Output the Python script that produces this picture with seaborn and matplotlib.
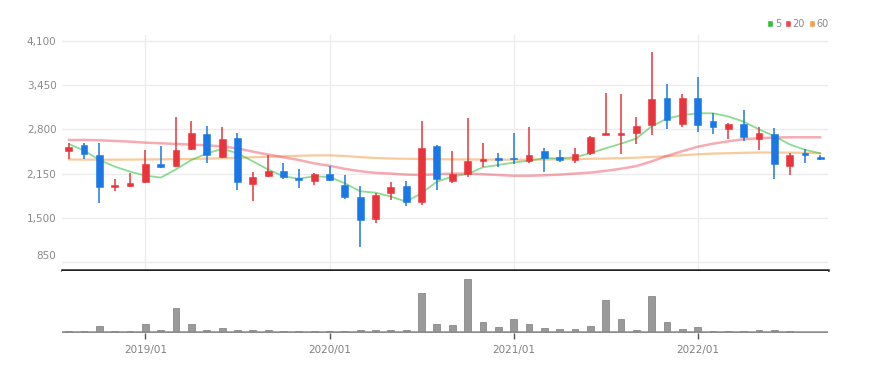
import numpy as np
import pandas as pd
import matplotlib
matplotlib.use("Agg")
import matplotlib.pyplot as plt
import matplotlib.transforms as mtransforms
from matplotlib.patches import Patch
import seaborn as sns

# ---------------- data ----------------
months = pd.period_range("2018-08", "2022-09", freq="M").strftime("%Y/%m").tolist()

open_ = [2478, 2571, 2429, 1949, 1968, 2022, 2292, 2263, 2517, 2728,
         2390, 2679, 1998, 2120, 2184, 2086, 2037, 2150, 1988, 1802,
         1488, 1861, 1968, 1733, 2556, 2047, 2140, 2331, 2375, 2385,
         2336, 2478, 2395, 2351, 2449, 2713, 2713, 2743, 2860, 3262,
         2880, 3262, 2929, 2806, 2880, 2659, 2733, 2263, 2449, 2399]
close = [2547, 2439, 1954, 1978, 2017, 2292, 2248, 2498, 2753, 2429,
         2664, 2022, 2101, 2189, 2096, 2062, 2150, 2062, 1802, 1469,
         1841, 1959, 1733, 2527, 2076, 2140, 2341, 2360, 2350, 2360,
         2424, 2380, 2346, 2439, 2694, 2748, 2748, 2851, 3252, 2939,
         3262, 2870, 2836, 2875, 2684, 2743, 2287, 2419, 2419, 2365]
high = [2596, 2596, 2605, 2076, 2164, 2498, 2556, 2988, 2929, 2850,
        2831, 2753, 2174, 2419, 2302, 2223, 2164, 2263, 2125, 1968,
        1861, 2027, 2047, 2929, 2576, 2478, 2968, 2605, 2460, 2753,
        2831, 2527, 2498, 2527, 2704, 3331, 3321, 2978, 3938, 3468,
        3321, 3566, 3046, 2890, 3086, 2840, 2821, 2449, 2517, 2419]
low = [2360, 2360, 1724, 1900, 1949, 2008, 2228, 2243, 2498, 2311,
       2380, 1910, 1743, 2105, 2076, 1939, 1978, 2037, 1783, 1067,
       1420, 1762, 1675, 1684, 1910, 2017, 2105, 2243, 2243, 2292,
       2311, 2174, 2321, 2302, 2429, 2713, 2439, 2586, 2713, 2802,
       2831, 2762, 2733, 2664, 2635, 2498, 2076, 2135, 2311, 2350]

ma5 = [2586, 2488, 2351, 2253, 2179, 2120, 2091, 2214, 2351, 2445,
       2515, 2449, 2331, 2210, 2110, 2076, 2110, 2100, 2008, 1890,
       1870, 1812, 1738, 1861, 2032, 2106, 2145, 2243, 2277, 2312,
       2341, 2375, 2375, 2390, 2450, 2522, 2590, 2665, 2845, 2960,
       3010, 3037, 3037, 2990, 2914, 2800, 2700, 2580, 2500, 2449]
ma20 = [2645, 2645, 2640, 2630, 2620, 2605, 2596, 2586, 2576, 2566,
        2550, 2522, 2473, 2430, 2390, 2350, 2300, 2265, 2220, 2185,
        2160, 2150, 2135, 2130, 2140, 2150, 2150, 2140, 2130, 2118,
        2118, 2125, 2135, 2150, 2165, 2190, 2222, 2260, 2330, 2410,
        2480, 2545, 2590, 2625, 2655, 2670, 2680, 2684, 2684, 2684]
ma60 = [2358, 2356, 2355, 2355, 2356, 2358, 2360, 2362, 2365, 2370,
        2375, 2382, 2390, 2398, 2405, 2412, 2418, 2418, 2410, 2392,
        2380, 2372, 2368, 2365, 2362, 2360, 2358, 2357, 2356, 2355,
        2355, 2357, 2360, 2364, 2368, 2372, 2377, 2384, 2394, 2406,
        2420, 2434, 2444, 2450, 2456, 2460, 2460, 2458, 2455, 2449]
volume = [3, 3, 18, 3, 3, 26, 7, 76, 26, 7,
          12, 7, 7, 7, 3, 3, 3, 3, 3, 8,
          6, 6, 8, 122, 26, 21, 165, 33, 16, 41,
          26, 12, 11, 11, 18, 99, 41, 8, 110, 32,
          11, 16, 5, 5, 5, 6, 8, 3, 2, 2]

year_ticks = ["2019/01", "2020/01", "2021/01", "2022/01"]
price_ticks = [850, 1500, 2150, 2800, 3450, 4100]

# ---------------- style ----------------
RED = "#e8343a"
BLUE = "#1a78e6"
C5, C20, C60 = "#2fbf3a", "#ee4455", "#f5a04a"

sns.set_theme(style="white")
plt.rcParams["font.family"] = ["Liberation Sans Narrow", "DejaVu Sans"]

df = pd.DataFrame({"month": months, "idx": np.arange(len(months)),
                   "open": open_, "close": close, "high": high, "low": low,
                   "ma5": ma5, "ma20": ma20, "ma60": ma60, "volume": volume})
df["up"] = df["close"] >= df["open"]
df["body_lo"] = df[["open", "close"]].min(axis=1)
df["body_h"] = (df["close"] - df["open"]).abs().clip(lower=25)
cols = np.where(df["up"], RED, BLUE)

fig = plt.figure(figsize=(8.7, 3.74), dpi=100)
L, Rr = 62 / 870, 828 / 870
ax = fig.add_axes([L, 1 - 269.5 / 374, Rr - L, (269.5 - 35) / 374])
axv = fig.add_axes([L, 1 - 333 / 374, Rr - L, (333 - 271) / 374])

xlim = (-0.44, 49.5)
tick_pos = [months.index(t) for t in year_ticks]

# price grid
ax.set_ylim(740, 4188)
ax.set_xlim(*xlim)
ax.set_yticks(price_ticks)
ax.set_yticklabels([f"{v:,}" for v in price_ticks])
ax.set_xticks(tick_pos)
ax.set_xticklabels([])
ax.grid(True, color="#ececec", lw=1.0)
ax.set_axisbelow(True)
for s in ["top", "left", "right"]:
    ax.spines[s].set_visible(False)
ax.spines["bottom"].set_color("#222222")
ax.spines["bottom"].set_linewidth(1.8)
ax.tick_params(axis="both", length=0)
ax.tick_params(axis="y", labelsize=7.5, labelcolor="#8a8a8a", pad=4)
for lab in ax.get_yticklabels():
    if lab.get_text() == "850":
        lab.set_transform(lab.get_transform() +
                          mtransforms.ScaledTranslation(0, 0.07, fig.dpi_scale_trans))

# moving averages
sns.lineplot(data=df, x="idx", y="ma60", ax=ax, color=C60, alpha=0.55, lw=1.6, zorder=2)
sns.lineplot(data=df, x="idx", y="ma20", ax=ax, color=C20, alpha=0.45, lw=1.8, zorder=2)
sns.lineplot(data=df, x="idx", y="ma5", ax=ax, color=C5, alpha=0.55, lw=1.3, zorder=2)

# candles
ax.vlines(df["idx"], df["low"], df["high"], colors=cols, lw=1.1, zorder=3)
ax.bar(df["idx"], df["body_h"], bottom=df["body_lo"], width=0.44, color=cols,
       edgecolor=cols, linewidth=0.4, zorder=4)
ax.set_xlabel("")
ax.set_ylabel("")

# volume
sns.barplot(data=df, x="idx", y="volume", ax=axv, native_scale=True, color="#9a9a9a",
            saturation=1, width=0.44, edgecolor="#7c7c7c", linewidth=0.5, zorder=3)
axv.set_xlim(*xlim)
axv.set_ylim(-2, 188)
axv.axhline(0, color="#8c8c8c", lw=1.8, zorder=4)
axv.set_yticks([])
axv.set_xticks(tick_pos)
axv.set_xticklabels(year_ticks)
axv.tick_params(axis="x", length=4, width=1, color="#555555", labelsize=7.5,
                labelcolor="#808080", pad=5, bottom=True, direction="out")
axv.set_xlabel("")
axv.set_ylabel("")
for s in axv.spines.values():
    s.set_visible(False)

# legend
handles = [Patch(facecolor=C5, label="5"), Patch(facecolor=C20, label="20"),
           Patch(facecolor=C60, label="60")]
fig.legend(handles=handles, loc="upper right", bbox_to_anchor=(829 / 870, 1 - 19 / 374),
           ncol=3, frameon=False, fontsize=7, handlelength=0.55, handleheight=0.7,
           handletextpad=0.2, columnspacing=0.45, borderpad=0, borderaxespad=0,
           labelcolor="#8a8a8a")

fig.savefig("out.png", dpi=100)
